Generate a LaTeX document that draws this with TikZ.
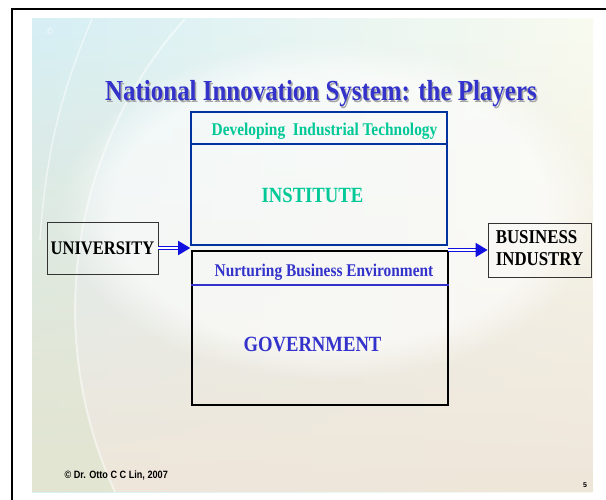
\documentclass[tikz,border=0pt]{standalone}
\usepackage{fontspec}
\setmainfont{Liberation Serif}
\setsansfont{Liberation Sans}
\usepackage{xcolor}
\usetikzlibrary{calc,arrows.meta,fadings}
\definecolor{titleblue}{RGB}{51,51,204}
\definecolor{govblue}{RGB}{51,51,204}
\definecolor{instblue}{RGB}{0,51,160}
\definecolor{insttext}{RGB}{0,200,150}
\definecolor{arrblue}{RGB}{16,16,224}
\definecolor{bgleft}{RGB}{214,240,246}
\definecolor{bgmid}{RGB}{203,227,234}
\definecolor{bgright}{RGB}{249,251,240}
\definecolor{bgbot}{RGB}{239,230,218}
\definecolor{bgleaf}{RGB}{214,228,200}
\newcommand{\squash}[1]{\scalebox{.86}[1]{#1}}

\tikzset{
  box/.style={draw, rectangle, inner sep=0pt},
  pipe/.style={draw=arrblue, double=white, double distance=1.3pt, line width=1.5pt,
    -{Triangle[length=12pt,width=14pt]}},
  big/.style={font=\bfseries\fontsize{21.7}{24}\selectfont},
  sub/.style={font=\bfseries\fontsize{17.9}{20}\selectfont}
}

\begin{document}
\begin{tikzpicture}[x=1pt,y=-1pt]
\useasboundingbox (0,0) rectangle (606,500);
\fill[white] (0,0) rectangle (606,500);

\begin{scope}
  \clip (32,19) rectangle (593,492);
  \shade[left color=bgleft, middle color=bgmid, right color=bgright] (32,19) rectangle (593,492);
  \fill[bgbot, path fading=north] (32,19) rectangle (593,492);
  \fill[bgleaf, fill opacity=.5, path fading=north] (32,19) -- (185,19)
      .. controls (75,140) and (40,330) .. (115,492) -- (32,492) -- cycle;
  \fill[white, fill opacity=.6, path fading=circle with fuzzy edge 20 percent] (330,210) ellipse (270pt and 170pt);
  \draw[white, line width=2pt, opacity=.5] (185,19) .. controls (75,140) and (40,330) .. (115,492);
  \draw[white, line width=1.5pt, opacity=.5] (92,19) .. controls (62,90) and (46,150) .. (40,240);
\end{scope}

\draw[line width=2pt] (12,500) -- (12,9) -- (606,9);

\node[white, opacity=.8, inner sep=0pt, font=\sffamily\fontsize{9}{10}\selectfont] (mark) at (50,31) {©};

\node[anchor=base, text=black!35, font=\bfseries\fontsize{29}{32}\selectfont] (shadow) at (322.5,102.5)
  {\squash{National Innovation System: the Players}};
\node[anchor=base, text=titleblue, font=\bfseries\fontsize{29}{32}\selectfont] (title) at (321,101)
  {\squash{National Innovation System: the Players}};

\node[box, draw=instblue, line width=1.6pt, minimum width=256pt, minimum height=133pt] (inst) at (319,178.5) {};
\node[box, line width=1.4pt, minimum width=256pt, minimum height=154pt] (gov) at (320,328) {};
\draw[instblue, line width=2pt] ($(inst.north west)+(0,33)$) -- ($(inst.north east)+(0,33)$);
\draw[govblue, line width=2pt] ($(gov.north west)+(0,35)$) -- ($(gov.north east)+(0,35)$);

\node[anchor=base, text=insttext, sub] (develop) at ($(inst)+(5.5,-42.5)$) {\squash{Developing\ \ Industrial Technology}};
\node[anchor=base, text=insttext, big] (institute) at ($(inst)+(-6.5,24.2)$) {\squash{INSTITUTE}};
\node[anchor=base, text=govblue, sub] (nurture) at ($(gov)+(4,-51.5)$) {\squash{Nurturing Business Environment}};
\node[anchor=base, text=govblue, big] (government) at ($(gov)+(-7.5,23)$) {\squash{GOVERNMENT}};

\node[box, draw=black!80, line width=.8pt, minimum width=111pt, minimum height=52pt,
  font=\bfseries\fontsize{19.2}{22}\selectfont] (uni) at (102.5,248) {\squash{UNIVERSITY}};
\node[box, draw=black!80, line width=.8pt, minimum width=103pt, minimum height=54pt,
  font=\bfseries\fontsize{19.6}{22.6}\selectfont] (bus) at (539.5,250)
  {\squash{\begin{tabular}{@{}l@{}}BUSINESS\\INDUSTRY\end{tabular}}};

\draw[pipe] (uni.east) -- (uni.east -| inst.west);
\draw[pipe] (inst.east |- bus.west) -- (bus.west);

\node[anchor=base west, font=\sffamily\bfseries\fontsize{10.6}{12}\selectfont] (copy) at (61,478.3)
  {\squash{© Dr. Otto C C Lin, 2007}};
\node[anchor=base, font=\sffamily\bfseries\fontsize{7}{8}\selectfont] (page) at (585,487.7) {5};

\end{tikzpicture}
\end{document}
